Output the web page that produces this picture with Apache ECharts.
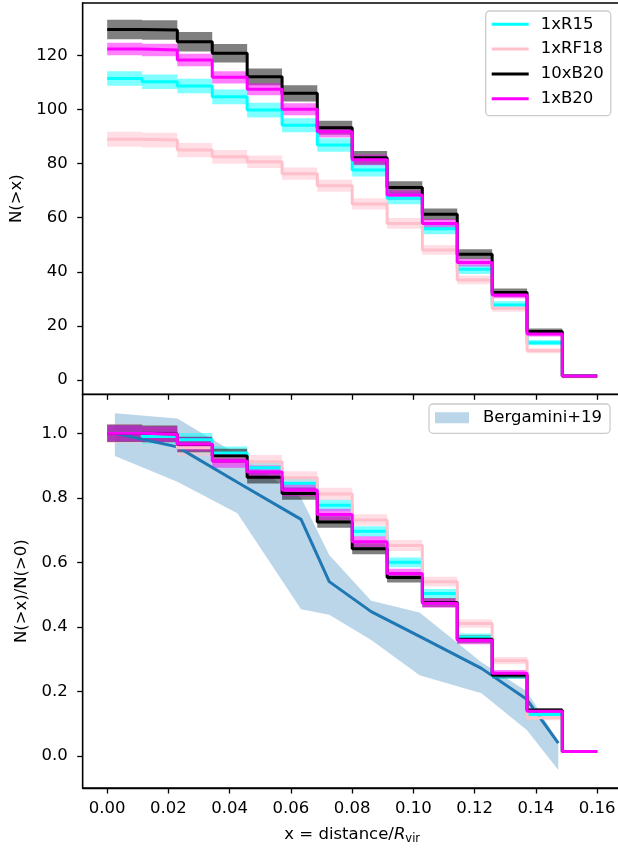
<!DOCTYPE html>
<html>
<head>
<meta charset="utf-8">
<script src="https://cdn.jsdelivr.net/npm/echarts@6/dist/echarts.min.js"></script>
<style>
  html, body { margin: 0; padding: 0; background: #fff; }
  #chart { width: 618px; height: 850px; }
</style>
</head>
<body>
<div id="chart"></div>
<script>
// bin edges of the cumulative step curves (x = distance / R_vir)
const binEdges = [0, 0.0114, 0.0229, 0.0343, 0.0457, 0.0571, 0.0686, 0.08, 0.0914, 0.1029, 0.1143, 0.1257, 0.1371, 0.1486, 0.16];

const seriesNames = ['1xR15', '1xRF18', '10xB20', '1xB20'];

// N(>x), top panel
const countR15   = [111.5, 110.3, 108.7, 104.7, 99.8, 94.2, 86.9, 77.6, 67.2, 55.9, 40.9, 27.7, 13.8, 1.5];
const countRF18  = [89.0, 88.7, 85.0, 82.5, 80.7, 76.3, 71.8, 65.1, 57.9, 48.1, 37.0, 26.5, 10.8, 1.2];
const count10B20 = [129.6, 129.4, 125.1, 120.8, 112.1, 106.0, 93.3, 82.2, 71.2, 61.3, 46.5, 32.3, 17.9, 1.5];
const count1B20  = [122.4, 122.0, 118.3, 111.9, 107.5, 100.1, 91.8, 81.4, 68.4, 57.9, 43.4, 31.4, 17.0, 1.5];

// half widths of the shaded bands, top panel
const errR15   = [2.7, 2.7, 2.7, 2.7, 2.7, 2.6, 2.5, 2.4, 2.2, 2.0, 1.7, 1.4, 1.0, 0.2];
const errRF18  = [2.8, 2.7, 2.6, 2.5, 2.3, 2.3, 2.2, 2.1, 2.0, 1.8, 1.6, 1.3, 0.9, 0.2];
const err10B20 = [3.6, 3.6, 3.6, 3.4, 3.1, 3.0, 2.6, 2.5, 2.3, 2.1, 1.8, 1.5, 1.1, 0.3];
const err1B20  = [2.3, 2.3, 2.3, 2.3, 2.2, 2.2, 2.1, 2.0, 1.8, 1.6, 1.4, 1.2, 0.9, 0.2];

// N(>x)/N(>0), bottom panel
const fracR15   = [1.0, 0.990, 0.980, 0.939, 0.893, 0.845, 0.777, 0.696, 0.600, 0.503, 0.367, 0.248, 0.128, 0.013];
const fracRF18  = [1.0, 0.997, 0.955, 0.927, 0.912, 0.862, 0.812, 0.731, 0.652, 0.540, 0.410, 0.295, 0.118, 0.013];
const frac10B20 = [1.0, 0.998, 0.965, 0.930, 0.864, 0.813, 0.725, 0.642, 0.553, 0.475, 0.361, 0.250, 0.141, 0.013];
const frac1B20  = [1.0, 0.997, 0.966, 0.914, 0.880, 0.824, 0.748, 0.664, 0.565, 0.473, 0.358, 0.256, 0.138, 0.013];

const fracErrR15   = [0.024, 0.022, 0.021, 0.020, 0.019, 0.018, 0.017, 0.016, 0.015, 0.014, 0.012, 0.010, 0.007, 0.002];
const fracErrRF18  = [0.030, 0.027, 0.025, 0.023, 0.021, 0.020, 0.019, 0.018, 0.017, 0.015, 0.013, 0.011, 0.008, 0.002];
const fracErr10B20 = [0.027, 0.026, 0.024, 0.022, 0.020, 0.019, 0.018, 0.017, 0.016, 0.014, 0.012, 0.010, 0.007, 0.002];
const fracErr1B20  = [0.025, 0.024, 0.022, 0.021, 0.020, 0.019, 0.018, 0.017, 0.015, 0.014, 0.012, 0.010, 0.007, 0.002];

// Bergamini+19 profile and its range
const bergX    = [0.0025, 0.0229, 0.0425, 0.0633, 0.0725, 0.0862, 0.102, 0.1222, 0.137, 0.1473];
const bergMid  = [1.0, 0.958, 0.848, 0.733, 0.540, 0.447, 0.370, 0.271, 0.175, 0.039];
const bergHigh = [1.062, 1.046, 0.935, 0.800, 0.623, 0.481, 0.444, 0.290, 0.200, 0.045];
const bergLow  = [0.930, 0.850, 0.752, 0.454, 0.437, 0.359, 0.250, 0.194, 0.080, -0.044];

// tick labels
const xTicks = [0, 0.02, 0.04, 0.06, 0.08, 0.10, 0.12, 0.14, 0.16];
const yTicksTop = [0, 20, 40, 60, 80, 100, 120];
const yTicksBottom = [0.0, 0.2, 0.4, 0.6, 0.8, 1.0];

const topCounts = [countR15, countRF18, count10B20, count1B20];
const topErrs = [errR15, errRF18, err10B20, err1B20];
const bottomFracs = [fracR15, fracRF18, frac10B20, frac1B20];
const bottomErrs = [fracErrR15, fracErrRF18, fracErr10B20, fracErr1B20];

const lineColors = ['#00ffff', '#ffc0cb', '#000000', '#ff00ff'];
const bandColors = ['rgba(0,255,255,0.5)', 'rgba(255,192,203,0.5)', 'rgba(0,0,0,0.5)', 'rgba(255,0,255,0.5)'];
const FONT = 'DejaVu Sans';
const FS = 16.5;

function stepPoints(vals) {
    const pts = vals.map((v, i) => [binEdges[i], v]);
    pts.push([binEdges[binEdges.length - 1], vals[vals.length - 1]]);
    return pts;
}

function bandData(vals, errs) {
    return vals.map((v, i) => [binEdges[i], binEdges[i + 1], v - errs[i], v + errs[i]]);
}

// one polygon per series, like fill_between(step='post')
function stepBand(color) {
    return function (params, api) {
        if (params.dataIndexInside !== 0) return null;
        const upper = [], lower = [];
        for (let i = 0; i < params.dataInsideLength; i++) {
            const x0 = api.value(0, i), x1 = api.value(1, i);
            const lo = api.value(2, i), hi = api.value(3, i);
            upper.push(api.coord([x0, hi]), api.coord([x1, hi]));
            lower.push(api.coord([x0, lo]), api.coord([x1, lo]));
        }
        return { type: 'polygon', shape: { points: upper.concat(lower.reverse()) }, style: { fill: color } };
    };
}

function bergBand(params, api) {
    if (params.dataIndexInside !== 0) return null;
    const upper = [], lower = [];
    for (let i = 0; i < params.dataInsideLength; i++) {
        upper.push(api.coord([api.value(0, i), api.value(2, i)]));
        lower.push(api.coord([api.value(0, i), api.value(1, i)]));
    }
    return { type: 'polygon', shape: { points: upper.concat(lower.reverse()) }, style: { fill: 'rgba(31,119,180,0.3)' } };
}

const series = [
    {
        name: 'Bergamini+19', type: 'custom', xAxisIndex: 1, yAxisIndex: 1,
        renderItem: bergBand, encode: { x: 0, y: [1, 2] },
        itemStyle: { color: 'rgba(31,119,180,0.3)' },
        data: bergX.map((x, i) => [x, bergLow[i], bergHigh[i]])
    },
    {
        name: 'Bergamini line', type: 'line', xAxisIndex: 1, yAxisIndex: 1,
        data: bergX.map((x, i) => [x, bergMid[i]]),
        symbol: 'none', lineStyle: { color: '#1f77b4', width: 3 }, itemStyle: { color: '#1f77b4' }
    }
];

seriesNames.forEach((name, k) => {
    series.push({
        name: name + ' band', type: 'custom', xAxisIndex: 0, yAxisIndex: 0,
        renderItem: stepBand(bandColors[k]), encode: { x: [0, 1], y: [2, 3] },
        data: bandData(topCounts[k], topErrs[k])
    });
    series.push({
        name: name, type: 'line', xAxisIndex: 0, yAxisIndex: 0, step: 'end',
        data: stepPoints(topCounts[k]), symbol: 'none',
        lineStyle: { color: lineColors[k], width: 3 }, itemStyle: { color: lineColors[k] }
    });
    series.push({
        name: name + ' band', type: 'custom', xAxisIndex: 1, yAxisIndex: 1,
        renderItem: stepBand(bandColors[k]), encode: { x: [0, 1], y: [2, 3] },
        data: bandData(bottomFracs[k], bottomErrs[k])
    });
    series.push({
        name: name, type: 'line', xAxisIndex: 1, yAxisIndex: 1, step: 'end',
        data: stepPoints(bottomFracs[k]), symbol: 'none',
        lineStyle: { color: lineColors[k], width: 3 }, itemStyle: { color: lineColors[k] }
    });
});

const axisLine = { show: true, onZero: false, lineStyle: { color: '#000', width: 1.3 } };
const axisTick = { show: true, inside: false, length: 5.5, lineStyle: { color: '#000', width: 1.3 } };
const labelStyle = { color: '#000', fontFamily: FONT, fontSize: FS };

const xAxisBase = {
    type: 'value', min: -0.008, max: 0.168,
    axisLine: axisLine, splitLine: { show: false }
};

const chart = echarts.init(document.getElementById('chart'));

chart.setOption({
    animation: false,
    backgroundColor: '#fff',
    textStyle: { fontFamily: FONT },
    grid: [
        { left: 82.7, top: 3, width: 539, height: 391.3, show: true, borderColor: '#000', borderWidth: 1.3, containLabel: false, outerBoundsMode: 'none' },
        { left: 82.7, top: 394.3, width: 539, height: 393.7, show: true, borderColor: '#000', borderWidth: 1.3, containLabel: false, outerBoundsMode: 'none' }
    ],
    xAxis: [
        Object.assign({}, xAxisBase, {
            gridIndex: 0,
            axisTick: Object.assign({}, axisTick, { customValues: xTicks }),
            axisLabel: { show: false }
        }),
        Object.assign({}, xAxisBase, {
            gridIndex: 1,
            axisTick: Object.assign({}, axisTick, { customValues: xTicks }),
            axisLabel: Object.assign({}, labelStyle, {
                margin: 12, customValues: xTicks,
                formatter: v => v.toFixed(2)
            }),
            name: '{n|x = distance/}{i|R}{s|vir}',
            nameLocation: 'middle', nameGap: 36,
            nameTextStyle: {
                rich: {
                    n: { fontFamily: FONT, fontSize: FS, color: '#000' },
                    i: { fontFamily: FONT, fontSize: FS, fontStyle: 'italic', color: '#000' },
                    s: { fontFamily: FONT, fontSize: 11.5, color: '#000', padding: [9, 0, 0, 0] }
                }
            }
        })
    ],
    yAxis: [
        {
            type: 'value', gridIndex: 0, min: -5.3, max: 139.4,
            axisLine: axisLine, splitLine: { show: false },
            axisTick: Object.assign({}, axisTick, { customValues: yTicksTop }),
            axisLabel: Object.assign({}, labelStyle, { margin: 15, customValues: yTicksTop, formatter: v => String(v) }),
            name: 'N(>x)', nameLocation: 'middle', nameGap: 57,
            nameTextStyle: labelStyle
        },
        {
            type: 'value', gridIndex: 1, min: -0.1, max: 1.121,
            axisLine: axisLine, splitLine: { show: false },
            axisTick: Object.assign({}, axisTick, { customValues: yTicksBottom }),
            axisLabel: Object.assign({}, labelStyle, { margin: 15, customValues: yTicksBottom, formatter: v => v.toFixed(1) }),
            name: 'N(>x)/N(>0)', nameLocation: 'middle', nameGap: 51,
            nameTextStyle: labelStyle
        }
    ],
    legend: [
        {
            data: seriesNames.map(n => ({ name: n, icon: 'rect' })),
            orient: 'vertical', left: 485.7, top: 11,
            itemWidth: 37, itemHeight: 3, itemGap: 6.8,
            padding: [4.3, 7, 8, 6],
            backgroundColor: 'rgba(255,255,255,0.8)',
            borderColor: '#cccccc', borderWidth: 1.3, borderRadius: 4,
            selectedMode: false,
            textStyle: { color: '#000', fontFamily: FONT, fontSize: FS, lineHeight: 18, padding: [0, 0, 0, 7] }
        },
        {
            data: [{ name: 'Bergamini+19', icon: 'rect', itemStyle: { color: 'rgba(31,119,180,0.3)' } }],
            left: 429, top: 404,
            itemWidth: 34, itemHeight: 11,
            padding: [4.8, 8, 6.5, 6],
            backgroundColor: 'rgba(255,255,255,0.8)',
            borderColor: '#cccccc', borderWidth: 1.3, borderRadius: 4,
            selectedMode: false,
            textStyle: { color: '#000', fontFamily: FONT, fontSize: FS, lineHeight: 18, padding: [0, 0, 0, 9] }
        }
    ],
    series: series
});
</script>
</body>
</html>
